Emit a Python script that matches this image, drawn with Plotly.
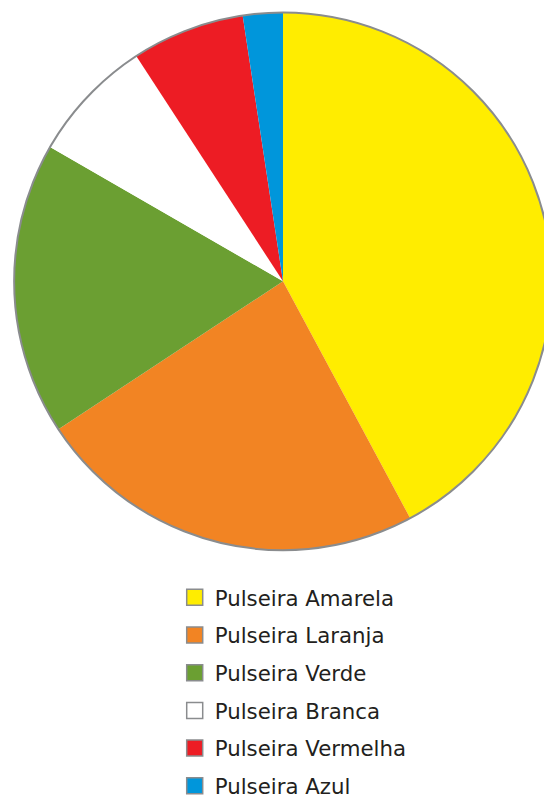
import plotly.graph_objects as go

labels = ["Pulseira Amarela", "Pulseira Laranja", "Pulseira Verde",
          "Pulseira Branca", "Pulseira Vermelha", "Pulseira Azul"]
values = [42.2, 23.6, 17.6, 7.5, 6.8, 2.4]
colors = ["#FFED00", "#F28423", "#6B9F32", "#FFFFFF", "#ED1C24", "#0096DB"]

dom = dict(x=[0.0082, 0.9882], y=[0.2922, 0.9942])

fig = go.Figure()

fig.add_trace(go.Pie(
    labels=labels, values=values, sort=False, direction="clockwise",
    rotation=0, textinfo="none", hoverinfo="label+percent",
    marker=dict(colors=colors, line=dict(width=0)),
    showlegend=False, domain=dom,
))

# outer outline only (single full slice, transparent)
fig.add_trace(go.Pie(
    labels=["total"], values=[sum(values)], sort=False, textinfo="none",
    hoverinfo="skip", showlegend=False, domain=dom,
    marker=dict(colors=["rgba(0,0,0,0)"], line=dict(color="#8A8C8E", width=2)),
))

for i, (lab, col) in enumerate(zip(labels, colors)):
    fig.add_trace(go.Scatter(
        x=[None], y=[None], mode="markers", name=lab, legendgroup=f"g{i}",
        marker=dict(symbol="square", size=20, color=col,
                    line=dict(color="#8A8C8E", width=1.5)),
    ))

fig.update_layout(
    width=552, height=799, margin=dict(l=0, r=0, t=0, b=0),
    paper_bgcolor="white", plot_bgcolor="white",
    xaxis=dict(visible=False), yaxis=dict(visible=False),
    legend=dict(x=0.302, y=0.2570, xanchor="left", yanchor="top",
                tracegroupgap=7,
                font=dict(family="DejaVu Sans, sans-serif", size=21.3, color="#231F20"),
                bgcolor="rgba(0,0,0,0)"),
)

fig.write_html("out.html")
